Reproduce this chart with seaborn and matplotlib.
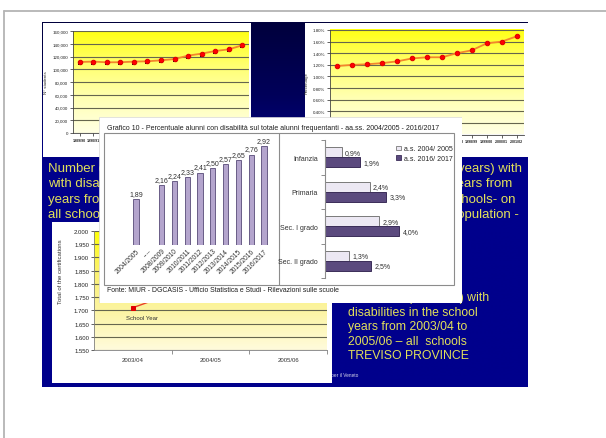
import numpy as np
import pandas as pd
import matplotlib
matplotlib.use("Agg")
import matplotlib.pyplot as plt
import seaborn as sns
from matplotlib import font_manager
from matplotlib.colors import LinearSegmentedColormap
from matplotlib.patches import Rectangle, Patch
from matplotlib.ticker import FuncFormatter, FixedLocator

# ---------------- data ----------------
anni_italia = ["1989/90", "1990/91", "1991/92", "1992/93", "1993/94", "1994/95", "1995/96",
               "1996/97", "1997/98", "1998/99", "1999/00", "2000/01", "2001/02"]
alunni_disabili = [111400, 112000, 110900, 111000, 112000, 112500, 114000,
                   116000, 121400, 124500, 128600, 131200, 137500]
alunni_disabili_statali = [109300, 110100, 109100, 109100, 110200, 110800, 112200,
                           114400, 119900, 122900, 127100, 129900, 136100]
quota_disabili = [1.18, 1.20, 1.21, 1.23, 1.26, 1.31, 1.33, 1.33, 1.40, 1.45, 1.57, 1.60, 1.69]

anni_treviso = ["2003/04", "2004/05", "2005/06"]
certificazioni_treviso = [1710, 1815, 1905]

anni_grafico10 = ["2004/2005", "----", "2008/2009", "2009/2010", "2010/2011", "2011/2012",
                  "2012/2013", "2013/2014", "2014/2015", "2015/2016", "2016/2017"]
percentuale_alunni = [1.89, None, 2.16, 2.24, 2.33, 2.41, 2.50, 2.57, 2.65, 2.76, 2.92]

ordini_scuola = ["Infanzia", "Primaria", "Sec. I grado", "Sec. II grado"]
serie_anni = ["a.s. 2004/ 2005", "a.s. 2016/ 2017"]
pct_2004_2005 = [0.9, 2.4, 2.9, 1.3]
pct_2016_2017 = [1.9, 3.3, 4.0, 2.5]

# ---------------- style ----------------
sns.set_theme(style="white")
available = {f.name for f in font_manager.fontManager.ttflist}
SANS = ["Liberation Sans", "DejaVu Sans"]
NARROW = (["Liberation Sans Narrow"] if "Liberation Sans Narrow" in available else []) + SANS
plt.rcParams["font.family"] = SANS
plt.rcParams["axes.unicode_minus"] = False

W, H, DPI = 606, 439, 100
fig = plt.figure(figsize=(W / DPI, H / DPI), dpi=DPI)
fig.patch.set_facecolor("white")

YELLOW_TOP = LinearSegmentedColormap.from_list("ytop", ["#ffffe4", "#ffffb4", "#ffff70", "#ffff14"])
YELLOW_LOW = LinearSegmentedColormap.from_list("ylow", ["#fffbdc", "#fcf4a2", "#fbf16e", "#ffff08"])
NAVY = LinearSegmentedColormap.from_list("navy", ["#00003c", "#00005a", "#00008c"])
TEXT_YEL = "#e2e05a"
GRAD = np.linspace(1, 0, 256).reshape(-1, 1)


def rect(x0, y0, x1, y1):
    return [x0 / W, 1 - y1 / H, (x1 - x0) / W, (y1 - y0) / H]


def pixel_axes(x0, y0, x1, y1):
    a = fig.add_axes(rect(x0, y0, x1, y1))
    a.set_xlim(x0, x1)
    a.set_ylim(y1, y0)
    a.set_axis_off()
    return a


def panel(x0, y0, x1, y1, edge="none", lw=0.0):
    a = pixel_axes(x0, y0, x1, y1)
    a.add_patch(Rectangle((x0, y0), x1 - x0, y1 - y0, fc="white", ec=edge, lw=lw))
    return a


def gradient(a, x0, y0, x1, y1, cmap):
    a.imshow(GRAD, cmap=cmap, extent=(x0, x1, y1, y0), aspect="auto", interpolation="bilinear", zorder=1)


# ---------------- slide background ----------------
bg = pixel_axes(0, 0, W, H)
bg.plot([4, W], [12, 12], color="#b4b4b4", lw=1.3)
bg.plot([4, 4], [12, H], color="#b4b4b4", lw=1.3)
ys = np.linspace(23, 388, 400)
shade = np.clip((ys - 23) / (168 - 23), 0, 1).reshape(-1, 1)
bg.imshow(shade, cmap=NAVY, extent=(42, 528, 388, 23), aspect="auto", interpolation="bilinear", zorder=1)
bg.set_xlim(0, W)
bg.set_ylim(H, 0)

left_words = ["Number of", "with disabilities", "years from", "all schools"]
right_words = ["years) with", "years from", "schools- on", "population -"]
right_ends = [522, 512, 515, 519]
rows = [169, 184.5, 200, 215]
for txt, y in zip(left_words, rows):
    bg.text(48, y, txt, color=TEXT_YEL, fontsize=9.5, ha="left", va="center", zorder=3)
for txt, x, y in zip(right_words, right_ends, rows):
    bg.text(x, y, txt, color=TEXT_YEL, fontsize=9.5, ha="right", va="center", zorder=3)

bg.text(489, 298, "(L.104/92) with", color=TEXT_YEL, fontsize=8.8, ha="right", va="center", zorder=3)
for txt, y in zip(["disabilities in the school", "years from 2003/04 to",
                   "2005/06 \u2013 all  schools", "TREVISO PROVINCE"], [313, 327.5, 342, 356.5]):
    bg.text(348, y, txt, color=TEXT_YEL, fontsize=8.8, ha="left", va="center", zorder=3)
bg.text(358, 376, "Ufficio Scolastico Regionale per il Veneto", color="#d8d8ea", fontsize=3.4,
        ha="right", va="center", zorder=3)


def style_line_axes(ax, fs=3.2):
    ax.set_facecolor("none")
    ax.set_axisbelow(True)
    ax.yaxis.grid(True, color="#66664e", lw=0.8)
    ax.xaxis.grid(False)
    for s in ["top", "right"]:
        ax.spines[s].set_visible(False)
    for s in ["left", "bottom"]:
        ax.spines[s].set_color("#444444")
        ax.spines[s].set_linewidth(0.6)
    ax.tick_params(axis="both", labelsize=fs, length=2, width=0.5, pad=1.5, colors="#222222")
    ax.tick_params(axis="x", bottom=True)
    ax.tick_params(axis="y", left=True)


# ---------------- top-left: number of pupils ----------------
p1 = panel(43, 24, 251, 158)
gradient(p1, 73, 32, 249, 134, YELLOW_TOP)
ax1 = fig.add_axes(rect(73, 32, 249, 134))
df1 = pd.DataFrame({"anno": anni_italia, "tot": alunni_disabili, "stat": alunni_disabili_statali})
sns.scatterplot(data=df1, x="anno", y="stat", marker="s", s=8, color="#111111", linewidth=0, ax=ax1, zorder=3)
sns.lineplot(data=df1, x="anno", y="tot", ax=ax1, color="#f3862c", lw=1.3, marker="o",
             markersize=3.2, markerfacecolor="#ff0000", markeredgecolor="#e00000", zorder=4)
ax1.set_xlim(-0.5, 12.5)
ax1.set_ylim(0, 160000)
ax1.yaxis.set_major_locator(FixedLocator(np.arange(0, 160001, 20000)))
ax1.yaxis.set_major_formatter(FuncFormatter(lambda v, _: f"{int(v):,}"))
style_line_axes(ax1)
for lab in ax1.get_xticklabels():
    lab.set_fontsize(2.6)
    lab.set_fontweight("bold")
ax1.set_xlabel("")
ax1.set_ylabel("N\u00b0 students", fontsize=3.2, labelpad=3)

# ---------------- top-right: share of pupils ----------------
p2 = panel(305, 24, 528, 158)
gradient(p2, 330, 31, 524, 135.5, YELLOW_TOP)
ax2 = fig.add_axes(rect(330, 31, 524, 135.5))
df2 = pd.DataFrame({"anno": anni_italia, "quota": quota_disabili})
sns.lineplot(data=df2, x="anno", y="quota", ax=ax2, color="#f3862c", lw=1.3, marker="o",
             markersize=3.2, markerfacecolor="#ff0000", markeredgecolor="#e00000", zorder=4)
ax2.set_xlim(-0.5, 12.5)
ax2.set_ylim(0, 1.8)
ax2.yaxis.set_major_locator(FixedLocator(np.arange(0, 1.81, 0.2)))
ax2.yaxis.set_major_formatter(FuncFormatter(lambda v, _: f"{v:.2f}%"))
style_line_axes(ax2)
for lab in ax2.get_xticklabels():
    lab.set_fontsize(2.6)
    lab.set_fontweight("bold")
ax2.set_xlabel("")
ax2.set_ylabel("Percentage", fontsize=3.2, labelpad=3)

# ---------------- bottom-left: Treviso certifications ----------------
p3 = panel(52, 223, 332, 384)
gradient(p3, 94, 232, 327, 351, YELLOW_LOW)
ax3 = fig.add_axes(rect(94, 232, 327, 351))
df3 = pd.DataFrame({"anno": anni_treviso, "cert": certificazioni_treviso})
sns.lineplot(data=df3, x="anno", y="cert", ax=ax3, color="#e8402a", lw=1.0, marker="s",
             markersize=2.4, markerfacecolor="#e00000", markeredgecolor="#e00000", zorder=4)
ax3.set_xlim(-0.5, 2.5)
ax3.set_ylim(1550, 2000)
ax3.yaxis.set_major_locator(FixedLocator(np.arange(1550, 2001, 50)))
ax3.yaxis.set_major_formatter(FuncFormatter(lambda v, _: f"{v / 1000:.3f}"))
style_line_axes(ax3, fs=4.3)
ax3.spines["left"].set_color("#808080")
ax3.spines["bottom"].set_color("#808080")
ax3.xaxis.set_minor_locator(FixedLocator([0.5, 1.5, 2.5]))
ax3.tick_params(axis="x", which="major", length=0, pad=5, labelsize=4.3, colors="#333333")
ax3.tick_params(axis="x", which="minor", length=3, width=0.6, color="#808080", bottom=True)
ax3.set_xlabel("")
ax3.set_ylabel("")
ax3.text(0.205, 0.27, "School Year", transform=ax3.transAxes, fontsize=4.3, color="#333333",
         ha="center", va="center")
p3.text(60, 272, "Total of the certifications", rotation=90, fontsize=4.3, color="#333333",
        ha="center", va="center")

# ---------------- Grafico 10 ----------------
ov = panel(99, 118, 462, 304, edge="#d8d8d8", lw=0.5)
ov.add_patch(Rectangle((104, 134), 350, 152, fc="none", ec="#8c8c8c", lw=0.8))
ov.plot([279, 279], [134, 286], color="#8c8c8c", lw=0.8)
title = ov.text(107, 129, "Grafico 10 - Percentuale alunni con disabilità sul totale alunni frequentanti "
                "- aa.ss. 2004/2005 - 2016/2017", fontsize=5.2, family=NARROW, ha="left", va="center",
                color="#1e1e1e")
fonte = ov.text(107, 291, "Fonte: MIUR - DGCASIS - Ufficio Statistica e Studi - Rilevazioni sulle scuole",
                fontsize=5.2, family=NARROW, ha="left", va="center", color="#1e1e1e")

# left: bars by school year
axb = fig.add_axes(rect(129.6, 133, 270.4, 246))
axb.set_facecolor("none")
dfb = pd.DataFrame({"anno": anni_grafico10, "pct": pd.to_numeric(pd.Series(percentuale_alunni, dtype=object))})
sns.barplot(data=dfb, x="anno", y="pct", order=anni_grafico10, color="#b4a5cd", edgecolor="#574a78",
            linewidth=0.6, width=0.42, saturation=1, errorbar=None, ax=axb)
for c in axb.containers:
    labels = ["" if np.isnan(b.get_height()) else f"{b.get_height():.2f}".replace(".", ",") for b in c]
    axb.bar_label(c, labels=labels, padding=1.5, fontsize=5, color="#303030", family=NARROW)
axb.set_ylim(1.0, 3.2)
axb.set_xlim(-0.5, 10.5)
for s in axb.spines.values():
    s.set_visible(False)
axb.set_yticks([])
axb.set_xlabel("")
axb.set_ylabel("")
axb.tick_params(axis="x", length=0, pad=1.5)
for lab in axb.get_xticklabels():
    lab.set_rotation(45)
    lab.set_ha("right")
    lab.set_rotation_mode("anchor")
    lab.set_fontsize(4.8)
    lab.set_family(NARROW)
    lab.set_color("#303030")

# right: horizontal bars by school level
axh = fig.add_axes(rect(325, 141, 452, 279))
axh.set_facecolor("none")
dfh = pd.DataFrame({
    "ordine": ordini_scuola * 2,
    "anno": [serie_anni[0]] * len(ordini_scuola) + [serie_anni[1]] * len(ordini_scuola),
    "pct": pct_2004_2005 + pct_2016_2017,
})
light, dark = "#ece8f3", "#5b4a7e"
sns.barplot(data=dfh, y="ordine", x="pct", hue="anno", orient="h", palette=[light, dark],
            width=0.58, saturation=1, errorbar=None, legend=False, linewidth=0.7, ax=axh)
for c, ec in zip(axh.containers, ["#7a7a7a", "#3b2d58"]):
    for b in c:
        b.set_edgecolor(ec)
    axh.bar_label(c, labels=[f"{b.get_width():.1f}%".replace(".", ",") for b in c],
                  padding=2.5, fontsize=5, color="#303030", family=NARROW)
axh.set_xlim(0, 6.83)
axh.set_xticks([])
axh.set_xlabel("")
axh.set_ylabel("")
for s in ["top", "right", "bottom"]:
    axh.spines[s].set_visible(False)
axh.spines["left"].set_color("#8c8c8c")
axh.spines["left"].set_linewidth(0.8)
axh.yaxis.set_minor_locator(FixedLocator([-0.5, 0.5, 1.5, 2.5, 3.5]))
axh.tick_params(axis="y", which="major", length=0, pad=5, labelsize=5, colors="#303030")
axh.tick_params(axis="y", which="minor", length=3, width=0.7, color="#8c8c8c", left=True)
for lab in axh.get_yticklabels():
    lab.set_family(NARROW)
handles = [Patch(fc=light, ec="#7a7a7a", lw=0.6), Patch(fc=dark, ec="#3b2d58", lw=0.6)]
axh.legend(handles, serie_anni, loc="upper left", bbox_to_anchor=(393 / W, 1 - 143 / H),
           bbox_transform=fig.transFigure, frameon=False, prop={"family": NARROW, "size": 5},
           handlelength=0.7, handleheight=0.7, handletextpad=0.4, labelspacing=0.35, borderpad=0)

# fit the two long captions to their widths
renderer = fig.canvas.get_renderer()
for t, target in [(title, 326), (fonte, 230)]:
    w = t.get_window_extent(renderer=renderer).width
    t.set_fontsize(t.get_fontsize() * target / w)

fig.savefig("out.png", dpi=DPI)
